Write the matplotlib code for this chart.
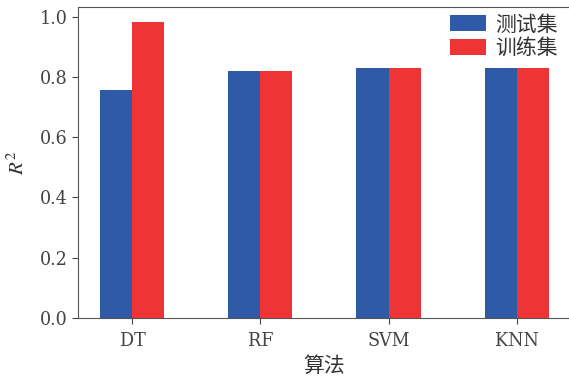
import numpy as np
import matplotlib.pyplot as plt

plt.rcParams['font.family'] = ['Liberation Serif', 'Noto Sans CJK SC', 'DejaVu Sans']
plt.rcParams['mathtext.fontset'] = 'stix'

algorithms = ['DT', 'RF', 'SVM', 'KNN']
test_r2 = [0.757, 0.821, 0.831, 0.831]
train_r2 = [0.983, 0.821, 0.831, 0.831]

fig = plt.figure(figsize=(5.69, 3.77), dpi=100)
ax = fig.add_axes([0.137, 0.1565, 0.8665, 0.825])

x = np.arange(len(algorithms))
w = 0.25
ax.bar(x - w / 2, test_r2, w, color='#2f5aa8', label='测试集')
ax.bar(x + w / 2, train_r2, w, color='#ee3434', label='训练集')

ax.set_xticks(x)
ax.set_xticklabels(algorithms)
ax.set_yticks([0.0, 0.2, 0.4, 0.6, 0.8, 1.0])
ax.set_yticklabels(['0.0', '0.2', '0.4', '0.6', '0.8', '1.0'])
ax.tick_params(labelsize=14, colors='#444444', length=4)
ax.tick_params(axis='x', pad=6)
for lbl in ax.get_xticklabels() + ax.get_yticklabels():
    lbl.set_family('DejaVu Serif')
    lbl.set_stretch('condensed')
for s in ax.spines.values():
    s.set_color('#555555')

ax.set_xlabel('算法', fontsize=15, color='#333333', labelpad=5)
ax.set_ylabel('$R^2$', fontsize=15, color='#333333', labelpad=8)

leg = ax.legend(loc='upper right', frameon=False, fontsize=15,
                handlelength=1.7, handleheight=0.8, handletextpad=0.45,
                borderaxespad=0.0, labelspacing=0.15,
                bbox_to_anchor=(0.99, 1.0))
for t in leg.get_texts():
    t.set_color('#333333')

fig.savefig('out.png', dpi=100)
